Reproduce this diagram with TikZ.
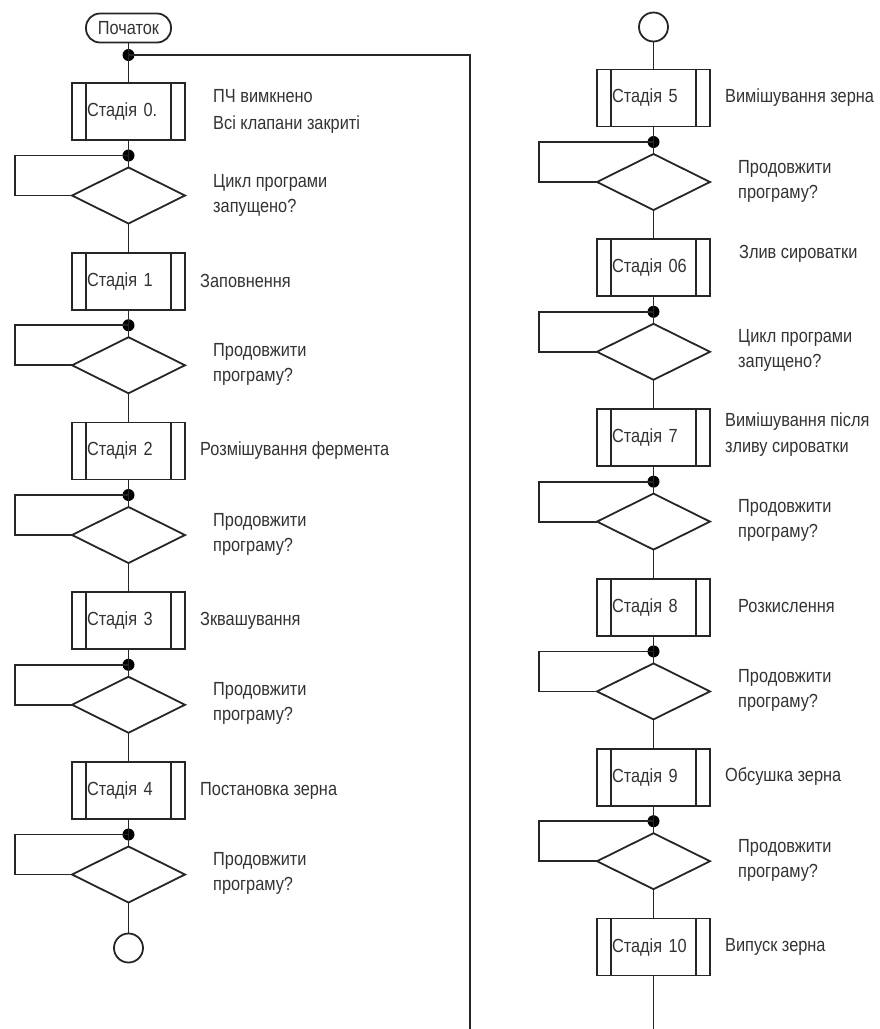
\documentclass[tikz,border=0pt]{standalone}
\usepackage{fontspec}
\setmainfont{Liberation Sans}[FakeStretch=0.86]
\usetikzlibrary{shapes.geometric}
\begin{document}
\begin{tikzpicture}[x=1pt,y=-1pt,
  font=\fontsize{19}{25}\selectfont,
  line/.style={line width=1.8pt, black!85},
  stagebox/.style={draw=black!85, line width=1.8pt, rectangle, minimum width=113pt, minimum height=57pt,
    text width=83pt, align=left, inner xsep=15pt, inner ysep=0pt, outer sep=0pt, text=black!80},
  decision/.style={diamond, draw=black!85, line width=1.8pt, minimum width=113pt, minimum height=56pt, inner sep=0pt, outer sep=0pt},
  junction/.style={circle, fill=black, inner sep=0pt, minimum size=12pt},
  connector/.style={circle, draw=black!85, line width=1.8pt, minimum size=29pt, inner sep=0pt},
  terminal/.style={rectangle, rounded corners=14pt, draw=black!85, line width=1.8pt, minimum width=85pt, minimum height=29pt, inner sep=0pt, text=black!80},
  lbl/.style={anchor=west, align=left, inner sep=0pt, text=black!80},
]
\useasboundingbox (0,0) rectangle (880,1029);

% ---------------- left column ----------------
\node[terminal] (start) at (128.5,28) {Початок};
\node[junction] (jt) at (128.5,55) {};
\coordinate (tr) at (470,55);
\coordinate (br) at (470,1029);
\draw[line] (start) -- (jt.center);
\draw[line] (jt.center) -- (tr) -- (br);

\foreach \i/\c/\n in {0/111.5/{Стадія 0.},1/281.25/{Стадія 1},2/451/{Стадія 2},3/620.75/{Стадія 3},4/790.5/{Стадія 4}}{
  \node[stagebox] (s\i) at (128.5,\c) {\n};
  \draw[line] ([xshift=14pt]s\i.north west) -- ([xshift=14pt]s\i.south west);
  \draw[line] ([xshift=-14pt]s\i.north east) -- ([xshift=-14pt]s\i.south east);
  \node[junction] (j\i) at (128.5,\c+44) {};
  \node[decision] (d\i) at (128.5,\c+84) {};
  \coordinate (la\i) at (15,\c+44);
  \coordinate (lb\i) at (15,\c+84);
  \draw[line] (s\i) -- (j\i.center) -- (d\i);
  \draw[line] (j\i.center) -- (la\i) -- (lb\i) -- (d\i.west);
}
\draw[line] (jt.center) -- (s0);
\foreach \i/\k in {0/1,1/2,2/3,3/4}{
  \draw[line] (d\i) -- (s\k);
}
\node[connector] (endl) at (128.5,948) {};
\draw[line] (d4) -- (endl);

% left labels
\node[lbl, font=\fontsize{19}{27}\selectfont] (t0) at (213,111) {ПЧ вимкнено\\Всі клапани закриті};
\node[lbl] (t1) at (200,281.25) {Заповнення};
\node[lbl] (t2) at (200,451) {Розмішування фермента};
\node[lbl] (t3) at (200,620.75) {Зквашування};
\node[lbl] (t4) at (200,790.5) {Постановка зерна};
\node[lbl] (q0) at (213,195) {Цикл програми\\запущено?};
\foreach \i/\c in {1/281.25,2/451,3/620.75,4/790.5}{
  \node[lbl] (q\i) at (213,\c+83) {Продовжити\\програму?};
}

% ---------------- right column ----------------
\node[connector] (startr) at (653.5,27) {};
\foreach \i/\c/\n in {5/98/{Стадія 5},6/267.8/{Стадія 06},7/437.6/{Стадія 7},8/607.4/{Стадія 8},9/777.2/{Стадія 9}}{
  \node[stagebox] (s\i) at (653.5,\c) {\n};
  \draw[line] ([xshift=14pt]s\i.north west) -- ([xshift=14pt]s\i.south west);
  \draw[line] ([xshift=-14pt]s\i.north east) -- ([xshift=-14pt]s\i.south east);
  \node[junction] (j\i) at (653.5,\c+44) {};
  \node[decision] (d\i) at (653.5,\c+84) {};
  \coordinate (la\i) at (539,\c+44);
  \coordinate (lb\i) at (539,\c+84);
  \draw[line] (s\i) -- (j\i.center) -- (d\i);
  \draw[line] (j\i.center) -- (la\i) -- (lb\i) -- (d\i.west);
}
\node[stagebox] (s10) at (653.5,947) {Стадія 10};
\draw[line] ([xshift=14pt]s10.north west) -- ([xshift=14pt]s10.south west);
\draw[line] ([xshift=-14pt]s10.north east) -- ([xshift=-14pt]s10.south east);
\draw[line] (startr) -- (s5);
\foreach \i/\k in {5/6,6/7,7/8,8/9,9/10}{
  \draw[line] (d\i) -- (s\k);
}
\coordinate (bend) at (653.5,1029);
\draw[line] (s10) -- (bend);

% right labels
\node[lbl] (t5) at (725,98) {Вимішування зерна};
\node[lbl] (t6) at (739,254) {Злив сироватки};
\node[lbl, font=\fontsize{19}{26}\selectfont] (t7) at (725,435) {Вимішування після\\зливу сироватки};
\node[lbl] (t8) at (738,606) {Розкислення};
\node[lbl] (t9) at (725,776) {Обсушка зерна};
\node[lbl] (t10) at (725,947) {Випуск зерна};
\node[lbl] (q6) at (738,350.8) {Цикл програми\\запущено?};
\foreach \i/\c in {5/98,7/437.6,8/607.4,9/777.2}{
  \node[lbl] (q\i) at (738,\c+83) {Продовжити\\програму?};
}
\end{tikzpicture}
\end{document}
